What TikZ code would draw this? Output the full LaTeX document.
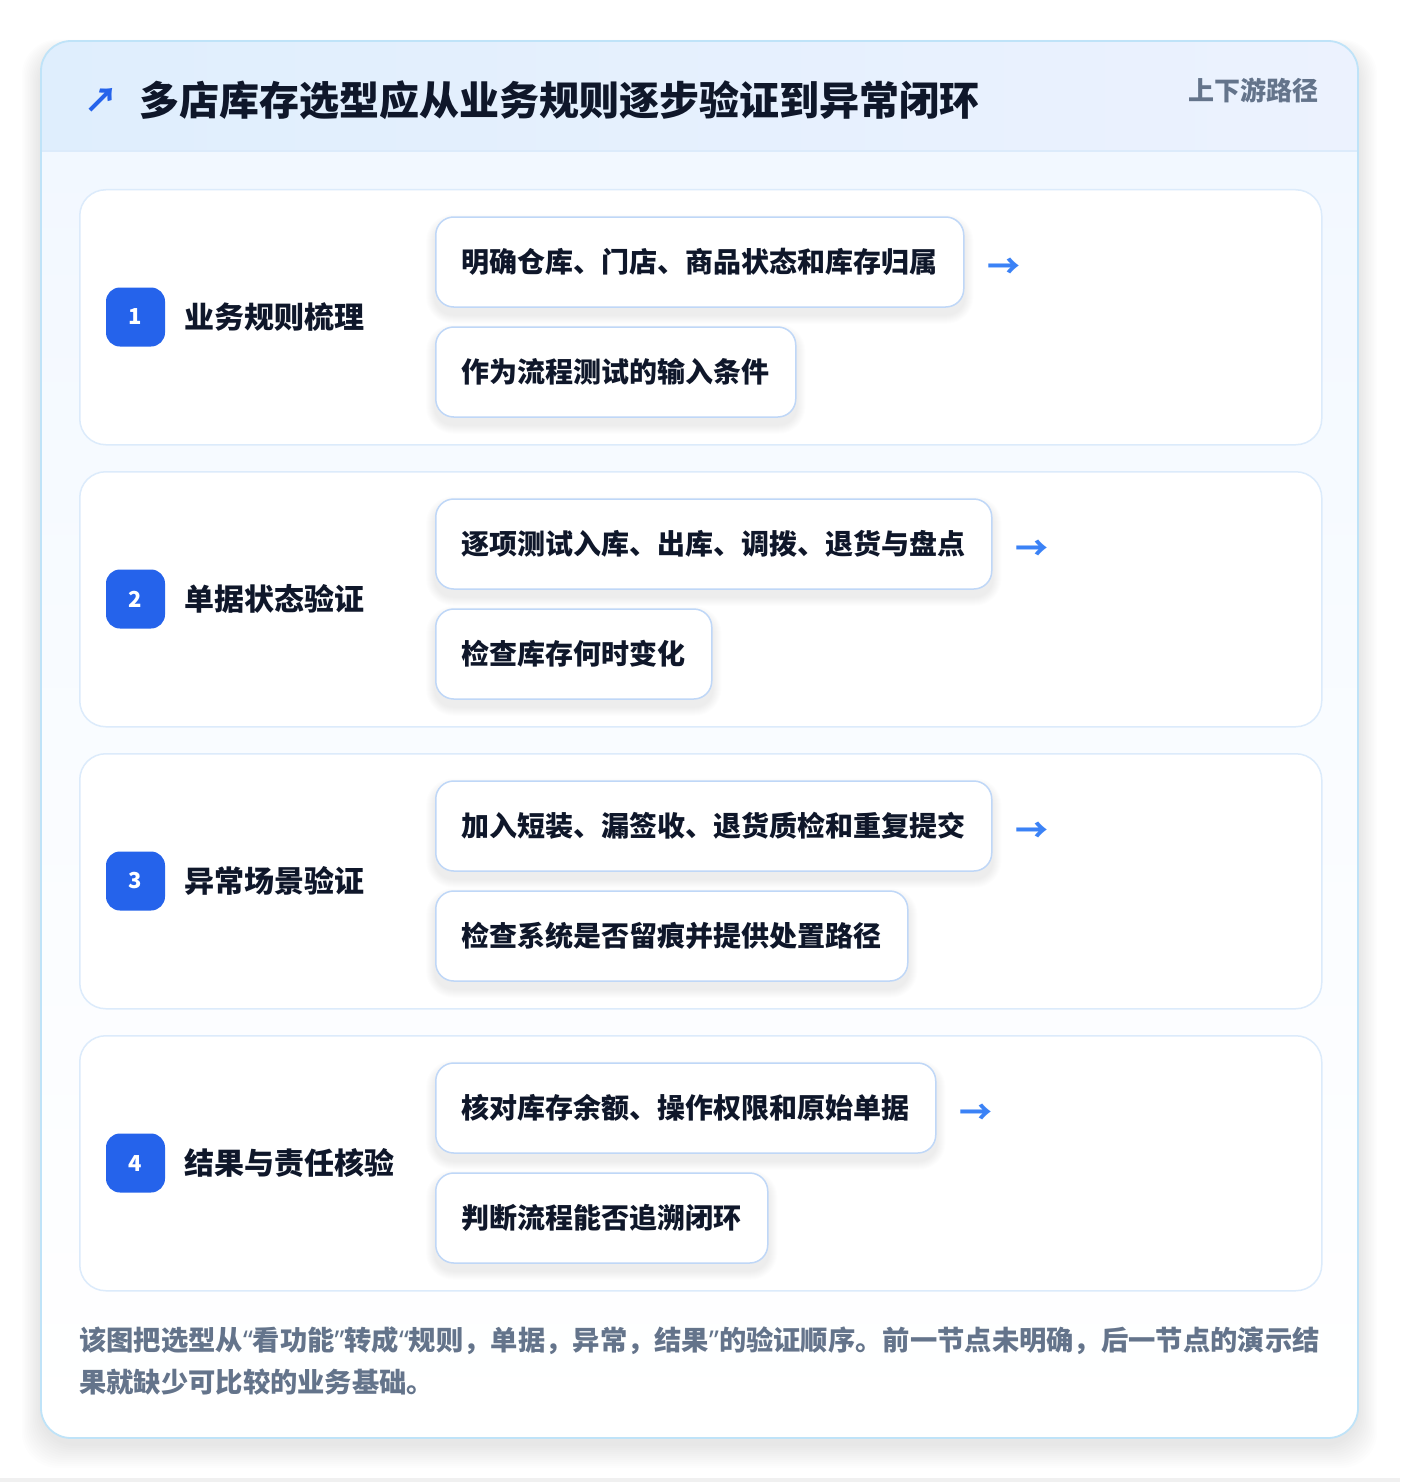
\documentclass[tikz,border=0pt]{standalone}
\usepackage{fontspec}
\setmainfont{Noto Sans CJK SC}
\newfontfamily\latinq{Noto Sans}
\definecolor{titlec}{HTML}{0F172A}
\definecolor{subc}{HTML}{64748B}
\definecolor{badgec}{HTML}{2563EB}
\definecolor{arrowc}{HTML}{3B82F6}
\definecolor{outerline}{HTML}{BFE3F8}
\definecolor{cardline}{HTML}{DCEBFB}
\definecolor{pillline}{HTML}{BFD7F7}
\definecolor{headl}{HTML}{DFEEFD}
\definecolor{headr}{HTML}{ECF2FE}
\definecolor{bodytop}{HTML}{F2F8FF}
\pgfdeclarelayer{front}
\pgfsetlayers{main,front}
\tikzset{
  stepcard/.style={draw=cardline, line width=1.5pt, fill=white, rounded corners=26pt,
    minimum width=1242pt, minimum height=255pt, anchor=north west, inner sep=0pt},
  pill/.style={draw=pillline, line width=1.5pt, fill=white, rounded corners=18pt,
    minimum height=90pt, inner xsep=26pt, inner ysep=0pt, anchor=west,
    text=titlec, font=\fontsize{28}{32}\selectfont\bfseries},
  badge/.style={fill=badgec, rounded corners=14pt, minimum size=59pt, inner sep=0pt,
    text=white, font=\fontsize{22}{26}\selectfont\bfseries},
  steplabel/.style={anchor=west, inner sep=0pt, text=titlec, font=\fontsize{30}{36}\selectfont\bfseries},
  flowarrow/.style={anchor=west, inner sep=0pt, text=arrowc, font=\fontsize{33}{36}\selectfont\bfseries},
}
\newcommand\pillshadow[1]{%
  \foreach \k in {1,...,9}{%
    \fill[black, opacity=0.009, rounded corners=18pt+\k pt]
      ([xshift=-\k pt, yshift=\k pt-7pt]#1.north west) rectangle ([xshift=\k pt, yshift=-\k pt-7pt]#1.south east);
  }%
}
\begin{document}
\begin{tikzpicture}[x=1pt,y=-1pt]
\useasboundingbox (0,0) rectangle (1400,1482);
\fill[white] (0,0) rectangle (1400,1482);
\fill[black!6] (0,1478) rectangle (1400,1482);
% outer card shadow
\foreach \i in {1,...,12}{
  \fill[black, opacity=0.006, rounded corners=36pt] (41-\i*1.6,41-\i*0.8+8) rectangle (1358+\i*1.6,1438+\i*2+6);
}
% outer card
\begin{scope}
  \clip[rounded corners=30pt] (41,41) rectangle (1358,1438);
  \fill[top color=bodytop, bottom color=white, middle color=white!60!bodytop] (41,151) rectangle (1358,1438);
  \fill[left color=headl, right color=headr] (41,41) rectangle (1358,151);
  \draw[cardline, line width=1.5pt] (41,151) -- (1358,151);
\end{scope}
\draw[outerline, line width=1.8pt, rounded corners=30pt] (41,41) rectangle (1358,1438);
% header
\node[anchor=center, inner sep=0pt, text=badgec, font=\fontsize{34}{40}\selectfont\bfseries] (icon) at (101,100) {↗};
\node[anchor=west, inner sep=0pt, text=titlec, font=\fontsize{40}{48}\selectfont\bfseries] (title) at (139,100) {多店库存选型应从业务规则逐步验证到异常闭环};
\node[anchor=east, inner sep=0pt, text=subc, font=\fontsize{26}{30}\selectfont\bfseries] (tag) at (1319,90) {上下游路径};
% step 1
\node[stepcard] (c1) at (79,189) {};
\node[badge] (b1) at (135.5,317) {1};
\node[steplabel] (l1) at (184,317) {业务规则梳理};
\begin{pgfonlayer}{front}
\node[pill] (p1a) at (435,262) {明确仓库、门店、商品状态和库存归属};
\node[pill] (p1b) at (435,372) {作为流程测试的输入条件};
\end{pgfonlayer}
\pillshadow{p1a}\pillshadow{p1b}
\node[flowarrow] (a1) at (p1a.east) [xshift=23pt, yshift=-6pt] {→};
% step 2
\node[stepcard] (c2) at (79,471) {};
\node[badge] (b2) at (135.5,599) {2};
\node[steplabel] (l2) at (184,599) {单据状态验证};
\begin{pgfonlayer}{front}
\node[pill] (p2a) at (435,544) {逐项测试入库、出库、调拨、退货与盘点};
\node[pill] (p2b) at (435,654) {检查库存何时变化};
\end{pgfonlayer}
\pillshadow{p2a}\pillshadow{p2b}
\node[flowarrow] (a2) at (p2a.east) [xshift=23pt, yshift=-6pt] {→};
% step 3
\node[stepcard] (c3) at (79,753) {};
\node[badge] (b3) at (135.5,881) {3};
\node[steplabel] (l3) at (184,881) {异常场景验证};
\begin{pgfonlayer}{front}
\node[pill] (p3a) at (435,826) {加入短装、漏签收、退货质检和重复提交};
\node[pill] (p3b) at (435,936) {检查系统是否留痕并提供处置路径};
\end{pgfonlayer}
\pillshadow{p3a}\pillshadow{p3b}
\node[flowarrow] (a3) at (p3a.east) [xshift=23pt, yshift=-6pt] {→};
% step 4
\node[stepcard] (c4) at (79,1035) {};
\node[badge] (b4) at (135.5,1163) {4};
\node[steplabel] (l4) at (184,1163) {结果与责任核验};
\begin{pgfonlayer}{front}
\node[pill] (p4a) at (435,1108) {核对库存余额、操作权限和原始单据};
\node[pill] (p4b) at (435,1218) {判断流程能否追溯闭环};
\end{pgfonlayer}
\pillshadow{p4a}\pillshadow{p4b}
\node[flowarrow] (a4) at (p4a.east) [xshift=23pt, yshift=-6pt] {→};
% footer
\node[anchor=north west, inner sep=0pt, text=subc, align=left, font=\fontsize{27.3}{42}\selectfont\bfseries] (foot) at (79,1326) {该图把选型从{\latinq “}看功能{\latinq ”}转成{\latinq “}规则，单据，异常，结果{\latinq ”}的验证顺序。前一节点未明确，后一节点的演示结\\果就缺少可比较的业务基础。};
\end{tikzpicture}
\end{document}
